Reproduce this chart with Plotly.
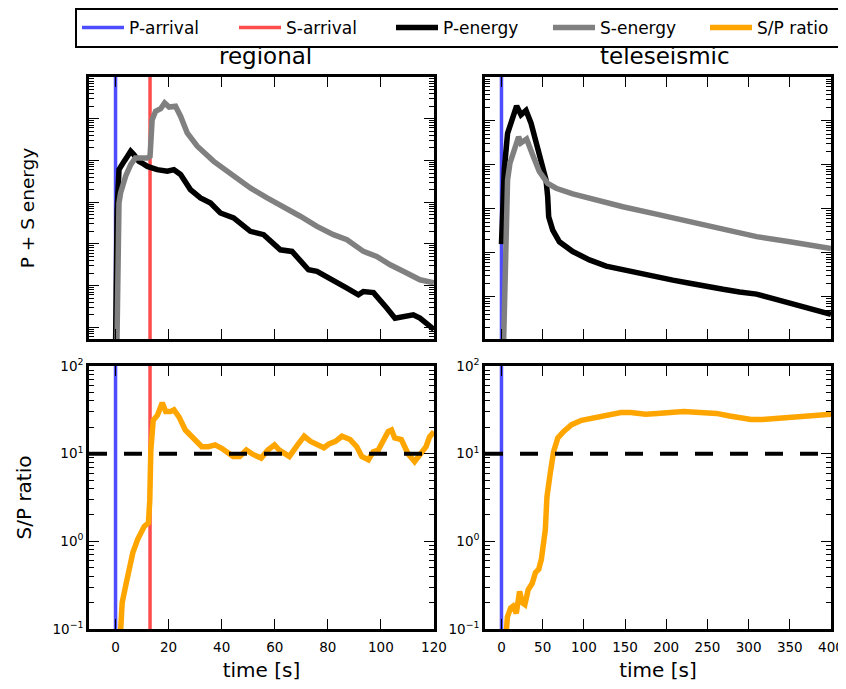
import plotly.graph_objects as go

FONT = "DejaVu Sans"
BLUE = "#4d4dff"
RED = "#ff4d4d"
BLACK = "#000000"
GRAY = "#808080"
ORANGE = "#ffa500"

# ---------------- regional ----------------
reg_p_time = [0.0, 0.6, 1.3, 2.2, 3.2, 4.5, 5.7, 6.9, 8.8, 10.5, 12.0, 15.7, 19.5, 22.0, 24.5,
              28.2, 32.0, 35.8, 39.5, 44.5, 47.0, 50.8, 55.8, 62.1, 66.5, 69.6, 72.7, 75.9,
              82.1, 87.2, 91.5, 93.4, 97.2, 99.7, 102.2, 105.3, 107.2, 112.2, 114.7, 117.9, 120.0]
reg_p_energy = [0.32, 630, 6000, 7900, 9500, 12600, 16600, 13800, 9500, 8300, 7200, 6000, 5500,
                6000, 4600, 2000, 1260, 950, 550, 420, 320, 200, 166, 72, 66, 38, 24, 22, 13.8,
                8.7, 6.0, 7.2, 6.8, 4.6, 2.9, 1.66, 1.78, 2.0, 1.66, 1.07, 0.89]

reg_s_time = [0.5, 1.0, 1.3, 1.9, 3.8, 5.7, 7.5, 10.0, 12.0, 13.0, 13.8, 15.1, 17.0, 18.5, 20.2,
              22.6, 24.5, 27.0, 30.8, 37.0, 44.5, 50.8, 57.1, 62.1, 69.6, 75.9, 82.1, 87.2,
              93.4, 98.4, 103.5, 109.7, 114.7, 120.0]
reg_s_energy = [0.32, 160, 950, 1660, 4200, 7900, 11500, 11500, 11500, 12600, 95000, 151000,
                174000, 240000, 191000, 200000, 115000, 46000, 21900, 9500, 4200, 2190, 1260,
                870, 460, 263, 166, 126, 66, 50, 31.6, 20, 13.8, 11.7]

reg_ratio_time = [1.4, 1.7, 2.5, 4.0, 5.2, 6.5, 8.3, 9.6, 10.8, 12.4, 12.9, 13.3, 14.2, 15.8,
                  17.6, 18.9, 20.7, 22.0, 23.9, 26.3, 28.2, 30.0, 32.5, 35.0, 37.5, 40.0, 42.5,
                  44.3, 46.8, 49.3, 51.8, 54.9, 57.4, 59.9, 61.7, 63.6, 65.5, 68.6, 71.1, 73.5,
                  76.0, 78.5, 80.4, 82.9, 85.3, 88.4, 90.9, 92.8, 95.3, 97.1, 99.0, 100.9, 102.7,
                  104.0, 105.2, 107.7, 110.2, 112.7, 114.5, 117.0, 118.3, 120.0]
reg_ratio = [0.05, 0.10, 0.20, 0.33, 0.46, 0.74, 1.05, 1.23, 1.48, 1.62, 2.95, 11.0, 24.0, 27.5,
             38.0, 30.2, 30.2, 31.6, 26.3, 18.6, 16.2, 13.8, 12.0, 12.0, 12.6, 11.5, 10.0, 9.3,
             9.3, 11.0, 9.8, 8.9, 11.0, 12.6, 11.0, 10.0, 9.3, 12.6, 15.8, 13.8, 12.6, 11.7,
             12.9, 13.8, 15.8, 14.5, 12.0, 9.3, 8.5, 10.5, 11.0, 14.5, 17.8, 18.6, 15.1, 14.5,
             10.0, 8.1, 9.8, 12.0, 15.5, 17.8]

# ---------------- teleseismic ----------------
tel_p_time = [0.0, 1.5, 3.4, 7.4, 11.5, 18.4, 23.7, 29.8, 35.9, 42.0, 50.0, 54.1, 56.1, 57.3,
              62.2, 70.3, 86.5, 106.8, 127, 147.3, 167.6, 187.9, 208, 228.5, 248.8, 269, 289,
              309.6, 329.9, 350, 370, 393, 400]
tel_p_energy = [15.8, 158, 776, 5250, 9800, 21900, 13800, 17400, 8900, 3390, 1100, 457, 190, 66,
                33, 17.8, 10.7, 6.9, 5.0, 4.1, 3.4, 2.9, 2.4, 2.04, 1.7, 1.48, 1.29, 1.15, 0.91,
                0.71, 0.58, 0.44, 0.40]

tel_s_time = [2.0, 4.0, 5.4, 7.4, 10.3, 15.6, 20.8, 23.5, 30.5, 37.8, 45.9, 56.1, 66.3, 86.5,
              107, 147.3, 188, 228.5, 269, 309.6, 350, 400]
tel_s_energy = [0.032, 3.2, 23.4, 457, 1100, 2190, 4370, 3160, 3890, 1700, 708, 380, 295, 219,
                174, 112, 76, 51, 35, 23.4, 17.8, 12.6]

tel_ratio_time = [4.5, 5.2, 7.2, 11.2, 14.0, 18.0, 22.0, 25.2, 28.4, 32.4, 37.2, 41.2, 45.2,
                  48.4, 51.2, 53.2, 55.2, 57.2, 59.2, 63.2, 68.4, 75.2, 85.2, 97.2, 113, 129,
                  145, 157, 175, 189, 205, 221, 241, 261, 277, 293, 303, 317, 341, 365, 393, 400]
tel_ratio = [0.063, 0.10, 0.138, 0.174, 0.182, 0.151, 0.269, 0.20, 0.19, 0.28, 0.33, 0.44, 0.48,
             0.62, 1.15, 1.35, 3.2, 5.2, 6.0, 10.5, 15.1, 17.8, 21.4, 24.0, 25.7, 27.5, 29.5,
             29.5, 28.2, 28.8, 29.5, 30.2, 29.5, 28.8, 26.9, 25.1, 24.5, 24.5, 25.7, 26.9,
             28.2, 28.2]

P_ARRIVAL_REG = 0.0
S_ARRIVAL_REG = 13.0
P_ARRIVAL_TEL = 0.0
SP_THRESHOLD = 10.0

reg_xticks = [0, 20, 40, 60, 80, 100, 120]
tel_xticks = [0, 50, 100, 150, 200, 250, 300, 350, 400]
ratio_tickvals = [0.1, 1, 10, 100]
ratio_ticktext = ["10<sup>\u22121</sup>", "10<sup>0</sup>", "10<sup>1</sup>", "10<sup>2</sup>"]

REG_XRANGE = [-10, 120]
TEL_XRANGE = [-20, 400]
REG_ERANGE = [-0.28, 6]      # log10 range of the energy axis (regional)
TEL_ERANGE = [-0.96, 5]      # log10 range of the energy axis (teleseismic)
RATIO_RANGE = [-1, 2]        # log10 range of the ratio axes

fig = go.Figure()

# legend-only entries for the arrival markers
fig.add_trace(go.Scatter(x=[None], y=[None], mode="lines", name="P-arrival",
                         line=dict(color=BLUE, width=3.5)))
fig.add_trace(go.Scatter(x=[None], y=[None], mode="lines", name="S-arrival",
                         line=dict(color=RED, width=3.5)))

panels = [
    ("x", "y", reg_p_time, reg_p_energy, reg_s_time, reg_s_energy),
    ("x2", "y2", tel_p_time, tel_p_energy, tel_s_time, tel_s_energy),
]
first = True
for xa, ya, pt, pe, st, se in panels:
    fig.add_trace(go.Scatter(x=pt, y=pe, mode="lines", name="P-energy", xaxis=xa, yaxis=ya,
                             line=dict(color=BLACK, width=5.5), showlegend=first,
                             legendgroup="p"))
    fig.add_trace(go.Scatter(x=st, y=se, mode="lines", name="S-energy", xaxis=xa, yaxis=ya,
                             line=dict(color=GRAY, width=5.5), showlegend=first,
                             legendgroup="s"))
    first = False

fig.add_trace(go.Scatter(x=reg_ratio_time, y=reg_ratio, mode="lines", name="S/P ratio",
                         xaxis="x3", yaxis="y3", line=dict(color=ORANGE, width=5.5),
                         legendgroup="r"))
fig.add_trace(go.Scatter(x=tel_ratio_time, y=tel_ratio, mode="lines", name="S/P ratio",
                         xaxis="x4", yaxis="y4", line=dict(color=ORANGE, width=5.5),
                         showlegend=False, legendgroup="r"))

# arrival lines
for xr, yr, t in [("x", "y", P_ARRIVAL_REG), ("x3", "y3", P_ARRIVAL_REG),
                  ("x2", "y2", P_ARRIVAL_TEL), ("x4", "y4", P_ARRIVAL_TEL)]:
    fig.add_shape(type="line", xref=xr, yref=yr + " domain", x0=t, x1=t, y0=0, y1=1,
                  line=dict(color=BLUE, width=3.5), layer="below")
for xr, yr in [("x", "y"), ("x3", "y3")]:
    fig.add_shape(type="line", xref=xr, yref=yr + " domain", x0=S_ARRIVAL_REG,
                  x1=S_ARRIVAL_REG, y0=0, y1=1, line=dict(color=RED, width=3.5), layer="below")
# threshold lines
for xr, yr in [("x3", "y3"), ("x4", "y4")]:
    fig.add_shape(type="line", xref=xr + " domain", yref=yr, x0=0, x1=1, y0=SP_THRESHOLD,
                  y1=SP_THRESHOLD, line=dict(color=BLACK, width=4, dash="18px,17px"),
                  layer="above")

# The page body has an 8px margin: the figure is sized so that it exactly fills the
# 846x689 window after that offset, and screen positions are converted below.
OFF = 8
W, H = 846 - OFF, 689 - OFF
L, R, T, B = 89 - OFF, 831 - OFF, 77 - OFF, 629 - OFF
pw, ph = R - L, B - T


def px_x(p):
    return (p - OFF - L) / pw


def px_y(p):
    return (B - (p - OFF)) / ph


tickfont = dict(family=FONT, size=13.5, color="black")
common = dict(ticks="inside", ticklen=10, tickwidth=1.3, tickcolor="black", showline=True,
              linecolor="black", linewidth=2.5, mirror="ticks", showgrid=False, zeroline=False,
              tickfont=tickfont, automargin=False)
minor = dict(ticks="inside", ticklen=5, tickwidth=1.1, tickcolor="black", dtick="D1",
             showgrid=False)
twin = dict(ticks="inside", ticklen=10, tickwidth=1.3, tickcolor="black", showline=False,
            showgrid=False, zeroline=False, showticklabels=False, side="right", type="log",
            tickmode="linear", tick0=0, dtick=1, minor=minor, automargin=False)

dom_left = [0, px_x(434)]
dom_right = [px_x(485), 1]
dom_top = [px_y(339), 1]
dom_bot = [0, px_y(366)]

title_font = dict(family=FONT, size=20, color="black")

fig.update_layout(
    width=W, height=H,
    margin=dict(l=L, r=W - R, t=T, b=H - B, autoexpand=False),
    paper_bgcolor="white", plot_bgcolor="white",
    font=dict(family=FONT, color="black"),
    xaxis=dict(domain=dom_left, anchor="y", range=REG_XRANGE, tickmode="array",
               tickvals=reg_xticks, showticklabels=False, **common),
    yaxis=dict(domain=dom_top, anchor="x", type="log", range=REG_ERANGE, tickmode="linear",
               tick0=0, dtick=1, showticklabels=False, minor=minor,
               title=dict(text="P + S energy", font=dict(family=FONT, size=18.5, color="black"),
                          standoff=47), **common),
    xaxis2=dict(domain=dom_right, anchor="y2", range=TEL_XRANGE, tickmode="array",
                tickvals=tel_xticks, showticklabels=False, **common),
    yaxis2=dict(domain=dom_top, anchor="x2", type="log", range=TEL_ERANGE, tickmode="linear",
                tick0=0, dtick=1, showticklabels=False, minor=minor, **common),
    xaxis3=dict(domain=dom_left, anchor="y3", range=REG_XRANGE, tickmode="array",
                tickvals=reg_xticks, ticklabelstandoff=4,
                title=dict(text="time [s]", font=title_font, standoff=10), **common),
    yaxis3=dict(domain=dom_bot, anchor="x3", type="log", range=RATIO_RANGE, tickmode="array",
                tickvals=ratio_tickvals, ticktext=ratio_ticktext, minor=minor,
                title=dict(text="S/P ratio", font=title_font, standoff=16), **common),
    xaxis4=dict(domain=dom_right, anchor="y4", range=TEL_XRANGE, tickmode="array",
                tickvals=tel_xticks, ticklabelstandoff=4,
                title=dict(text="time [s]", font=title_font, standoff=10), **common),
    yaxis4=dict(domain=dom_bot, anchor="x4", type="log", range=RATIO_RANGE, tickmode="array",
                tickvals=ratio_tickvals, ticktext=ratio_ticktext, minor=minor, **common),
    # right-hand twins carrying the mirrored minor ticks
    yaxis5=dict(overlaying="y", anchor="x", range=REG_ERANGE, **twin),
    yaxis6=dict(overlaying="y2", anchor="x2", range=TEL_ERANGE, **twin),
    yaxis7=dict(overlaying="y3", anchor="x3", range=RATIO_RANGE, **twin),
    yaxis8=dict(overlaying="y4", anchor="x4", range=RATIO_RANGE, **twin),
    legend=dict(orientation="h", xref="paper", yref="paper", x=px_x(75), y=px_y(8),
                xanchor="left", yanchor="top", bordercolor="black", borderwidth=2,
                bgcolor="white", font=dict(family=FONT, size=17, color="black"),
                itemwidth=42, entrywidth=100, traceorder="normal"),
    showlegend=True,
    annotations=[
        dict(text="regional", x=px_x(265), y=px_y(56), xref="paper", yref="paper",
             showarrow=False, font=dict(family=FONT, size=23, color="black"),
             xanchor="center", yanchor="middle"),
        dict(text="teleseismic", x=px_x(665), y=px_y(56), xref="paper", yref="paper",
             showarrow=False, font=dict(family=FONT, size=23, color="black"),
             xanchor="center", yanchor="middle"),
    ],
)

fig.write_html("out.html")
